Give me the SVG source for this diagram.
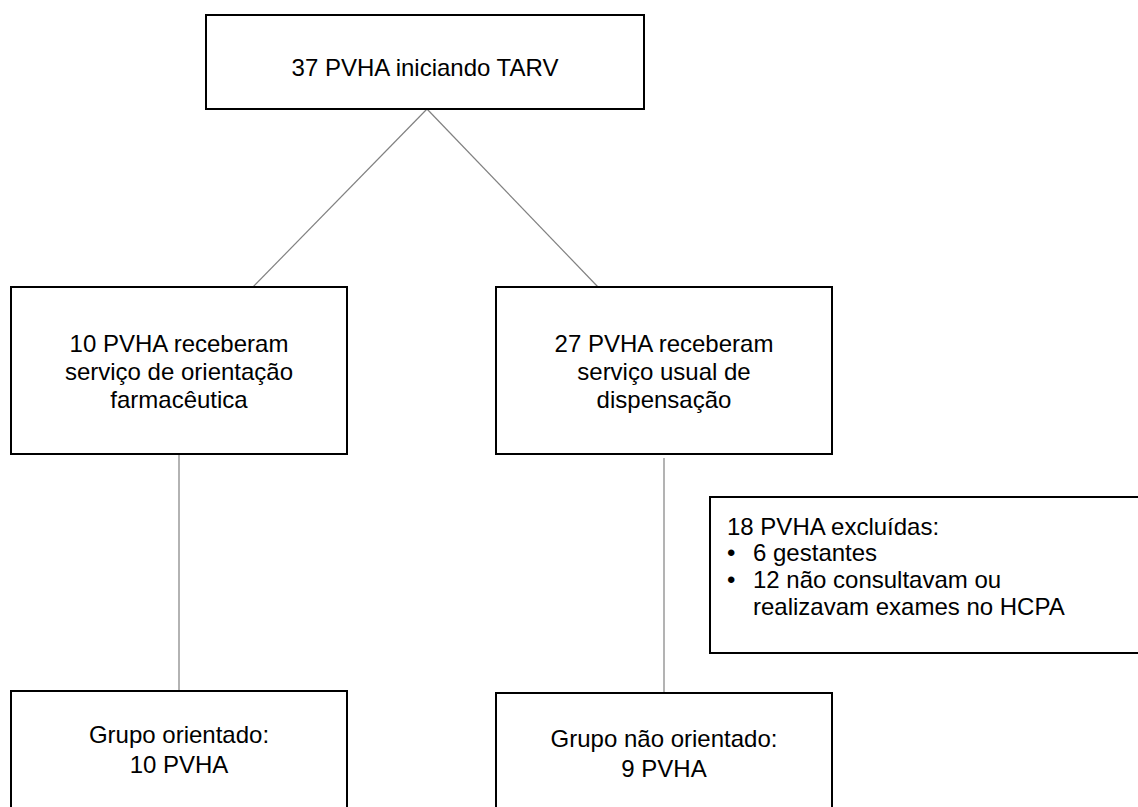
<svg xmlns="http://www.w3.org/2000/svg" width="1138" height="807" viewBox="0 0 1138 807">
<style>
.box{fill:#fff;stroke:#000;stroke-width:2}
.t{font-family:"Liberation Sans",Arial,sans-serif;font-size:24px;fill:#000}
.c{text-anchor:middle}
.conn{stroke:#808080;stroke-width:1.2;fill:none}
</style>
<rect width="1138" height="807" fill="#fff"/>
<g id="connectors">
<line class="conn" x1="427" y1="109" x2="253" y2="287"/>
<line class="conn" x1="427" y1="109" x2="598" y2="287"/>
<line class="conn" x1="179" y1="454" x2="179" y2="691"/>
<line class="conn" x1="664" y1="458" x2="664" y2="693"/>
</g>
<g id="n-top">
<rect class="box" x="206" y="15" width="438" height="94"/>
<text class="t c" x="425" y="76">37 PVHA iniciando TARV</text>
</g>
<g id="n-left">
<rect class="box" x="11" y="287" width="336" height="167"/>
<text class="t c" x="179" y="352">10 PVHA receberam</text>
<text class="t c" x="179" y="380">serviço de orientação</text>
<text class="t c" x="179" y="408">farmacêutica</text>
</g>
<g id="n-right">
<rect class="box" x="496" y="287" width="336" height="167"/>
<text class="t c" x="664" y="352">27 PVHA receberam</text>
<text class="t c" x="664" y="380">serviço usual de</text>
<text class="t c" x="664" y="408">dispensação</text>
</g>
<g id="n-excl">
<rect class="box" x="710" y="497" width="440" height="156"/>
<text class="t" x="727" y="535">18 PVHA excluídas:</text>
<text class="t" x="727" y="561">•</text>
<text class="t" x="753" y="561">6 gestantes</text>
<text class="t" x="727" y="588">•</text>
<text class="t" x="753" y="588">12 não consultavam ou</text>
<text class="t" x="753" y="615">realizavam exames no HCPA</text>
</g>
<g id="n-bl">
<rect class="box" x="11" y="691" width="336" height="130"/>
<text class="t c" x="179" y="743">Grupo orientado:</text>
<text class="t c" x="179" y="773">10 PVHA</text>
</g>
<g id="n-br">
<rect class="box" x="496" y="693" width="336" height="130"/>
<text class="t c" x="664" y="747">Grupo não orientado:</text>
<text class="t c" x="664" y="777">9 PVHA</text>
</g>
</svg>
